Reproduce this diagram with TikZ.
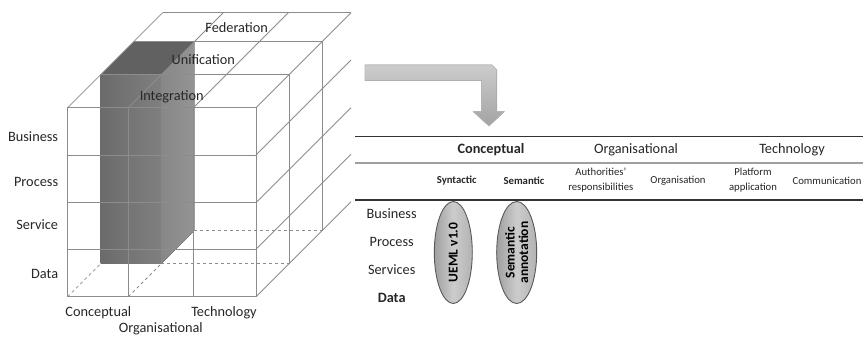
\documentclass[tikz,border=0pt]{standalone}
\usepackage{fontspec}
\setmainfont{Carlito}
\usetikzlibrary{shapes.geometric}
\begin{document}
\begin{tikzpicture}[x=1pt,y=-1pt,
        cubeline/.style={draw=gray!90,line width=0.8pt},
        hiddenline/.style={cubeline,dashed},
        bigtext/.style={inner sep=0pt,text=black!85,font=\fontsize{14.3}{16}\selectfont},
        smalltext/.style={inner sep=0pt,text=black!85,align=center,font=\fontsize{10.7}{15}\selectfont},
        oval/.style={ellipse,draw=black!65,line width=0.9pt,inner sep=0pt,
            minimum width=102pt,minimum height=38pt,rotate=90,align=center,
            left color=gray!75,right color=gray!60,middle color=gray!40,
            font=\bfseries\fontsize{13.5}{14}\selectfont}]
        \useasboundingbox (0,0) rectangle (863,337);
        % shaded block, conceptual column
        \fill[black!62] (100.7,74.7) -- (133.7,41.7) -- (194.3,41.7) -- (161.3,74.7) -- cycle;
        \fill[left color=black!58,right color=black!50] (100.7,74.7) rectangle (161.3,263.7);
        \fill[left color=black!47,right color=black!42] (161.3,74.7) -- (194.3,41.7) -- (194.3,230.7) -- (161.3,263.7) -- cycle;
        % front face
        \draw[cubeline] (67.7,107.7) rectangle (256,296.7);
        \foreach \x in {128.3,193.3}
            \draw[cubeline] (\x,107.7) -- (\x,296.7);
        \foreach \y in {155,202.7,249.3}
            \draw[cubeline] (67.7,\y) -- (256,\y);
        % depth lines
        \foreach \x in {67.7,128.3,193.3,256}
            \draw[cubeline] (\x,107.7) -- ++(95,-95);
        \foreach \y in {155,202.7,249.3,296.7}
            \draw[cubeline] (256,\y) -- ++(95,-95);
        % inner planes
        \draw[cubeline] (100.7,74.7) -- (289,74.7) -- (289,263.7);
        \draw[cubeline] (133.7,41.7) -- (322,41.7) -- (322,230.7);
        \draw[cubeline] (162.7,12.7) -- (351,12.7);
        \draw[hiddenline] (161.3,263.7) -- (289,263.7);
        \draw[hiddenline] (194.3,230.7) -- (322,230.7);
        \draw[hiddenline] (67.7,296.7) -- (100.7,263.7);
        \draw[hiddenline] (128.3,296.7) -- (161.3,263.7);
        % cube labels
        \node[bigtext] (fed) at (236.7,27.7) {Federation};
        \node[bigtext] (uni) at (203.3,60) {Unification};
        \node[bigtext] (integ) at (171.7,96.7) {Integration};
        \node[bigtext,anchor=east] (cbus) at (58.3,136.7) {Business};
        \node[bigtext,anchor=east] (cproc) at (58.3,181.7) {Process};
        \node[bigtext,anchor=east] (cserv) at (58.3,225) {Service};
        \node[bigtext,anchor=east] (cdata) at (58.3,274) {Data};
        \node[bigtext] (ccon) at (98.3,312.7) {Conceptual};
        \node[bigtext] (ctech) at (224,312.7) {Technology};
        \node[bigtext] (corg) at (160.8,328.3) {Organisational};
        % bent arrow
        \filldraw[draw=gray!55,line width=0.6pt,top color=gray!40,bottom color=gray!72]
            (365,65) -- (492,65) -- (496.7,69.7) -- (496.7,111.7) -- (504.3,111.7) -- (489,126)
            -- (473.3,111.7) -- (481.7,111.7) -- (481.7,80.7) -- (365,80.7) -- cycle;
        % table
        \draw[black!80,line width=1.2pt] (355,136.5) -- (863,136.5);
        \draw[gray!75,line width=1.8pt] (355,163) -- (863,163);
        \draw[black!80,line width=1.2pt] (355,200) -- (863,200);
        \node[bigtext,font=\bfseries\fontsize{14.3}{16}\selectfont] (tcon) at (491,150) {Conceptual};
        \node[bigtext] (torg) at (636,150) {Organisational};
        \node[bigtext] (ttech) at (792,150) {Technology};
        \node[smalltext,font=\bfseries\fontsize{10.7}{15}\selectfont] (syn) at (456.7,181) {Syntactic};
        \node[smalltext,font=\bfseries\fontsize{10.7}{15}\selectfont] (sem) at (524,181) {Semantic};
        \node[smalltext] (auth) at (600.8,180.5) {Authorities'\\responsibilities};
        \node[smalltext] (orgn) at (678,181) {Organisation};
        \node[smalltext] (plat) at (753,180.5) {Platform\\application};
        \node[smalltext] (comm) at (827,181) {Communication};
        \node[bigtext] (tbus) at (391.7,213.3) {Business};
        \node[bigtext] (tproc) at (391.7,241.7) {Process};
        \node[bigtext] (tserv) at (391.7,270) {Services};
        \node[bigtext,font=\bfseries\fontsize{14.3}{16}\selectfont] (tdata) at (391.7,298.3) {Data};
        \node[oval] (ueml) at (453.3,252.5) {UEML v1.0};
        \node[oval,minimum height=40pt,font=\bfseries\fontsize{13.5}{13.5}\selectfont] (semann) at (516.7,252.5) {Semantic\\annotation};
\end{tikzpicture}
\end{document}
